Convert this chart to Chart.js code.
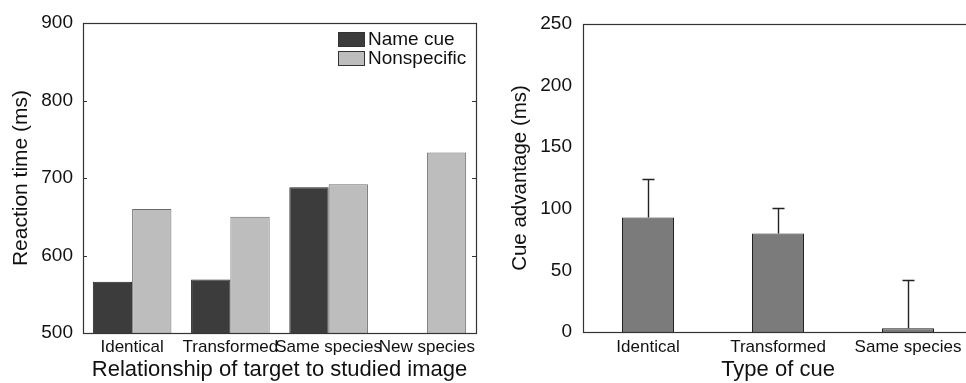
<!DOCTYPE html>
<html>
<head>
<meta charset="utf-8">
<script src="https://cdn.jsdelivr.net/npm/chart.js@4"></script>
<style>
html, body { margin: 0; padding: 0; background: #fff; overflow: hidden; width: 966px; height: 383px; }
#left { position: absolute; left: 0; top: 0; width: 490px; height: 383px; }
#right { position: absolute; left: 490px; top: 0; width: 500px; height: 383px; }
</style>
</head>
<body>
<div id="left"><canvas id="rtChart"></canvas></div>
<div id="right"><canvas id="cueChart"></canvas></div>
<script>
// left panel: reaction times
var relCategories = ['Identical', 'Transformed', 'Same species', 'New species'];
var nameCue = [566, 569, 688, null];
var nonspecific = [660, 650, 692, 733];
var rtTicks = [500, 600, 700, 800, 900];

// right panel: cue advantage with upper error bars
var cueCategories = ['Identical', 'Transformed', 'Same species'];
var cueAdvantage = [93, 80, 3];
var cueErrUpper = [31, 21, 39];
var cueTicks = [0, 50, 100, 150, 200, 250];

Chart.defaults.font.family = "'Liberation Sans', Arial, sans-serif";
Chart.defaults.color = '#111';

var frame = {
  id: 'frame',
  afterDraw: function (chart) {
    var a = chart.chartArea, ctx = chart.ctx;
    ctx.save();
    ctx.strokeStyle = '#333';
    ctx.lineWidth = 1.2;
    ctx.strokeRect(a.left + 0.5, a.top + 0.5, a.right - a.left, a.bottom - a.top);
    ctx.restore();
  }
};

var innerTicks = {
  id: 'innerTicks',
  afterDraw: function (chart) {
    var a = chart.chartArea, ctx = chart.ctx, y = chart.scales.y;
    ctx.save();
    ctx.strokeStyle = '#333';
    ctx.lineWidth = 1;
    rtTicks.forEach(function (v) {
      var py = Math.round(y.getPixelForValue(v)) + 0.5;
      ctx.beginPath();
      ctx.moveTo(a.left, py); ctx.lineTo(a.left + 4, py);
      ctx.moveTo(a.right, py); ctx.lineTo(a.right - 4, py);
      ctx.stroke();
    });
    ctx.restore();
  }
};

var boxLegend = {
  id: 'boxLegend',
  afterDraw: function (chart) {
    var a = chart.chartArea, ctx = chart.ctx;
    ctx.save();
    ctx.font = "19px 'Liberation Sans', Arial, sans-serif";
    ctx.textBaseline = 'middle';
    chart.data.datasets.forEach(function (ds, i) {
      var x = a.right - 138, y = a.top + 9 + i * 19;
      ctx.fillStyle = ds.backgroundColor;
      ctx.fillRect(x, y, 26, 14);
      ctx.strokeStyle = '#333';
      ctx.lineWidth = 1;
      ctx.strokeRect(x + 0.5, y + 0.5, 26, 14);
      ctx.fillStyle = '#111';
      ctx.fillText(ds.label, x + 30, y + 8);
    });
    ctx.restore();
  }
};

var errorBars = {
  id: 'errorBars',
  afterDatasetsDraw: function (chart) {
    var ctx = chart.ctx, y = chart.scales.y;
    var meta = chart.getDatasetMeta(0);
    ctx.save();
    ctx.strokeStyle = '#222';
    ctx.lineWidth = 1.4;
    meta.data.forEach(function (bar, i) {
      var x = Math.round(bar.x) + 0.5;
      var y0 = y.getPixelForValue(cueAdvantage[i]);
      var y1 = Math.round(y.getPixelForValue(cueAdvantage[i] + cueErrUpper[i])) + 0.5;
      ctx.beginPath();
      ctx.moveTo(x, y0); ctx.lineTo(x, y1);
      ctx.moveTo(x - 6, y1); ctx.lineTo(x + 6, y1);
      ctx.stroke();
    });
    ctx.restore();
  }
};

new Chart(document.getElementById('rtChart'), {
  type: 'bar',
  data: {
    labels: relCategories,
    datasets: [
      { label: 'Name cue', data: nameCue, backgroundColor: '#3c3c3c', borderColor: '#222', borderWidth: 1,
        categoryPercentage: 0.8, barPercentage: 1.0 },
      { label: 'Nonspecific', data: nonspecific, backgroundColor: '#bdbdbd', borderColor: '#6a6a6a', borderWidth: 1,
        categoryPercentage: 0.8, barPercentage: 1.0 }
    ]
  },
  options: {
    responsive: true,
    maintainAspectRatio: false,
    animation: false,
    layout: { padding: { top: 23, right: 14, left: 0, bottom: 0 } },
    plugins: { legend: { display: false }, tooltip: { enabled: false } },
    scales: {
      x: {
        grid: { display: false, drawTicks: false },
        border: { display: false },
        ticks: { font: { size: 17 }, padding: 4, autoSkip: false, maxRotation: 0 },
        title: { display: true, text: 'Relationship of target to studied image', font: { size: 22 }, padding: { top: 0, bottom: 0 } },
        afterFit: function (s) { s.height = 50; }
      },
      y: {
        min: 500, max: 900,
        grid: { display: false, drawTicks: false },
        border: { display: false },
        ticks: { stepSize: 100, font: { size: 19 }, padding: 10 },
        title: { display: true, text: 'Reaction time (ms)', font: { size: 21 }, padding: { top: 9, bottom: 0 } },
        afterFit: function (s) { s.width = 83; }
      }
    }
  },
  plugins: [frame, innerTicks, boxLegend]
});

new Chart(document.getElementById('cueChart'), {
  type: 'bar',
  data: {
    labels: cueCategories,
    datasets: [
      { label: 'Cue advantage', data: cueAdvantage, backgroundColor: '#7b7b7b', borderColor: '#222', borderWidth: 1,
        categoryPercentage: 0.4, barPercentage: 1.0 }
    ]
  },
  options: {
    responsive: true,
    maintainAspectRatio: false,
    animation: false,
    layout: { padding: { top: 24, right: 17, left: 0, bottom: 0 } },
    plugins: { legend: { display: false }, tooltip: { enabled: false } },
    scales: {
      x: {
        grid: { display: false, drawTicks: false },
        border: { display: false },
        ticks: { font: { size: 17 }, padding: 5, autoSkip: false, maxRotation: 0 },
        title: { display: true, text: 'Type of cue', font: { size: 22 }, padding: { top: 0, bottom: 0 } },
        afterFit: function (s) { s.height = 51; }
      },
      y: {
        min: 0, max: 250,
        grid: { display: false, drawTicks: false },
        border: { display: false },
        ticks: { stepSize: 50, font: { size: 19 }, padding: 11 },
        title: { display: true, text: 'Cue advantage (ms)', font: { size: 20.5 }, padding: { top: 18, bottom: 0 } },
        afterFit: function (s) { s.width = 93; }
      }
    }
  },
  plugins: [frame, errorBars]
});
</script>
</body>
</html>
